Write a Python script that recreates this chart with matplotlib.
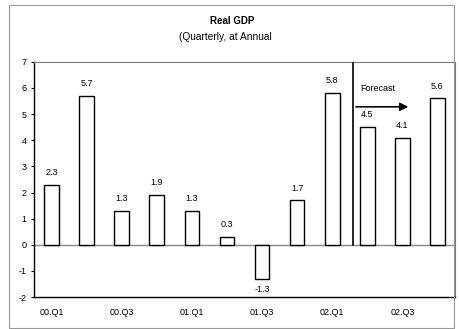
import matplotlib
matplotlib.use("Agg")
import matplotlib.pyplot as plt
from matplotlib.patches import Rectangle

plt.rcParams['font.family'] = ['Liberation Sans', 'DejaVu Sans']
plt.rcParams['axes.unicode_minus'] = False

quarters = ["00.Q1", "00.Q2", "00.Q3", "00.Q4", "01.Q1", "01.Q2",
            "01.Q3", "01.Q4", "02.Q1", "02.Q2", "02.Q3", "02.Q4"]
gdp = [2.3, 5.7, 1.3, 1.9, 1.3, 0.3, -1.3, 1.7, 5.8, 4.5, 4.1, 5.6]
labels = ["2.3", "5.7", "1.3", "1.9", "1.3", "0.3", "-1.3", "1.7", "5.8", "4.5", "4.1", "5.6"]

fig = plt.figure(figsize=(4.6, 3.29), dpi=100)
# outer frame
fig.patches.append(Rectangle((0.02, 0.003), 0.968, 0.983, transform=fig.transFigure,
                             fill=False, edgecolor="#999999", linewidth=0.8))

ax = fig.add_axes([0.074, 0.097, 0.915, 0.715])
x = list(range(len(gdp)))
ax.bar(x, gdp, width=0.42, color="white", edgecolor="black", linewidth=1.0, zorder=3)
ax.axhline(0, color="#888888", linewidth=1.0, zorder=2)

for xi, v, lab in zip(x, gdp, labels):
    if v >= 0:
        ax.text(xi, v + 0.3, lab, ha="center", va="bottom", fontsize=6.5)
    else:
        ax.text(xi, v - 0.25, lab, ha="center", va="top", fontsize=6.5)

# forecast marker
ax.plot([8.6, 8.6], [0, 6.95], color="black", linewidth=1.2, zorder=4)
ax.annotate("", xy=(10.25, 5.28), xytext=(8.6, 5.28),
            arrowprops=dict(arrowstyle="-|>", color="black", lw=1.2, mutation_scale=12))
ax.text(8.8, 5.97, "Forecast", fontsize=6.5, ha="left", va="center")

ax.set_xlim(-0.5, 11.5)
ax.set_ylim(-2, 7)
ax.set_yticks(range(-2, 8))
ax.set_xticks(x[::2])
ax.set_xticklabels(quarters[::2])
ax.tick_params(axis="y", labelsize=6.5, length=2, width=0.8)
ax.tick_params(axis="x", labelsize=6.5, length=0, pad=8)
for s in ["left", "bottom"]:
    ax.spines[s].set_color("black")
    ax.spines[s].set_linewidth(1.0)
for s in ["top", "right"]:
    ax.spines[s].set_color("#777777")
    ax.spines[s].set_linewidth(0.8)

fig.text(0.505, 0.937, "Real GDP", ha="center", va="center", fontsize=7, fontweight="bold")
fig.text(0.49, 0.887, "(Quarterly, at Annual", ha="center", va="center", fontsize=7.3)

fig.savefig("out.png", dpi=100)
